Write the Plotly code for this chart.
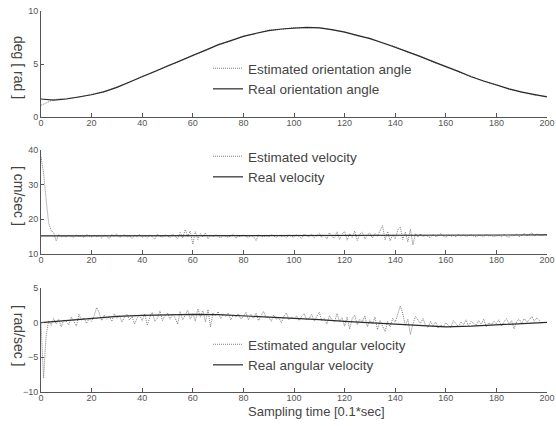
import plotly.graph_objects as go

# ---------------- data ----------------
t5 = list(range(0, 201, 5))
t10 = list(range(0, 201, 10))
t1 = list(range(0, 201))

orient_real = [1.7, 1.6, 1.7, 1.9, 2.1, 2.4, 2.8, 3.3, 3.8, 4.3, 4.8, 5.3, 5.8, 6.3, 6.8, 7.2,
               7.6, 7.9, 8.15, 8.3, 8.4, 8.45, 8.4, 8.25, 8.0, 7.7, 7.4, 7.0, 6.6, 6.15, 5.7,
               5.2, 4.75, 4.3, 3.8, 3.4, 3.0, 2.65, 2.35, 2.1, 1.9]
orient_est = [1.1, 1.65, 1.75, 1.85, 2.15, 2.35, 2.85, 3.25, 3.85, 4.25, 4.85, 5.25, 5.85, 6.25,
              6.85, 7.15, 7.65, 7.85, 8.2, 8.25, 8.45, 8.4, 8.45, 8.2, 8.05, 7.65, 7.45, 6.95,
              6.65, 6.1, 5.75, 5.15, 4.8, 4.25, 3.85, 3.35, 3.05, 2.6, 2.4, 2.05, 1.95]

vel_real_t = [0, 50, 100, 150, 200]
vel_real = [15.2, 15.3, 15.3, 15.4, 15.5]
vel_est = [
    38.0, 33.5, 26.0, 19.0, 16.8, 16.2, 13.8, 15.6, 15.0, 15.3,
    14.9, 15.4, 15.1, 14.8, 15.5, 15.0, 15.3, 14.7, 15.6, 15.2,
    14.9, 15.4, 15.0, 15.3, 14.6, 15.5, 15.1, 14.4, 15.7, 15.2,
    15.8, 14.8, 15.3, 15.6, 14.9, 15.2, 14.5, 15.4, 15.1, 15.6,
    14.8, 15.3, 14.6, 15.5, 15.0, 14.3, 15.7, 15.1, 14.9, 15.6,
    15.2, 14.7, 15.8, 15.0, 14.4, 16.2, 14.6, 17.0, 15.1, 16.6,
    12.8, 16.4, 14.2, 15.9, 14.9, 16.1, 14.4, 15.5, 14.9, 15.6,
    15.0, 14.6, 15.4, 15.1, 14.8, 15.3, 15.7, 14.5, 15.2, 15.0,
    15.6, 15.1, 14.7, 15.4, 15.0, 13.9, 15.5, 15.2, 15.0, 15.3,
    14.9, 15.6, 15.1, 14.8, 15.4, 15.0, 15.3, 14.7, 15.5, 15.2,
    14.8, 15.6, 15.0, 14.5, 15.7, 15.2, 14.9, 15.8, 14.6, 15.3,
    16.0, 14.7, 15.5, 14.3, 16.2, 15.0, 14.6, 16.4, 14.2, 15.8,
    16.5, 14.0, 15.9, 14.8, 16.6, 13.9, 15.7, 16.3, 14.3, 15.5,
    16.1, 14.6, 15.9, 15.2, 16.8, 18.2, 14.1, 16.5, 13.8, 15.6,
    14.4, 16.9, 17.8, 14.2, 16.3, 13.5, 17.2, 12.6, 15.9, 14.9,
    15.8, 15.0, 15.4, 15.1, 14.7, 15.6, 15.0, 15.3, 15.9, 15.2,
    14.8, 15.5, 15.1, 15.3, 15.0, 15.6, 15.2, 15.4, 15.1, 15.3,
    15.5, 15.2, 15.0, 15.4, 15.3, 15.1, 15.5, 15.2, 15.3, 15.0,
    15.2, 15.4, 15.0, 15.6, 15.1, 14.8, 15.5, 15.3, 15.7, 15.0,
    15.4, 15.9, 15.2, 15.6, 16.1, 15.3, 15.8, 15.5, 15.4, 15.6,
    15.5]

angvel_real = [0.0, 0.3, 0.6, 0.9, 1.05, 1.15, 1.2, 1.15, 1.0, 0.85, 0.65, 0.45, 0.2, 0.0,
               -0.2, -0.45, -0.6, -0.5, -0.35, -0.15, 0.05]
angvel_est = [
    0.0, -8.0, -2.0, 0.3, -0.4, 0.6, -0.2, 0.5, -0.6, 0.4,
    0.2, -0.3, 0.8, 0.1, -0.5, 1.2, 0.3, 0.7, -0.1, 0.6,
    0.2, 1.0, 2.2, 1.4, 0.3, 1.1, 0.5, 0.9, 0.2, 1.3,
    0.6, 1.0, 0.1, 0.8, 1.2, 0.4, 0.9, -0.2, 0.7, 1.1,
    0.3, 1.3, -0.4, 0.8, 1.5, 0.2, 0.6, 1.7, 0.3, 1.0,
    1.4, 0.5, 1.2, 0.7, -0.2, 1.6, 0.4, 1.1, 1.8, 0.5,
    1.3, 0.2, 2.0, 0.8, 1.7, 0.1, 1.9, -0.6, 1.4, 1.0,
    1.6, 0.6, 1.2, 0.9, 1.4, 0.4, 1.1, 0.8, 1.3, 0.5,
    0.9, 1.5, 0.4, 1.2, 0.6, 1.4, 0.3, 1.0, 1.6, 0.7,
    0.8, 0.2, 1.1, 0.5, 0.7, 0.0, 0.9, 1.4, 0.4, 0.8,
    0.5, 1.0, 0.3, 0.9, 1.3, 0.4, 0.6, 1.2, 0.2, 0.9,
    1.5, 0.3, 0.6, -0.2, 1.0, 0.4, 0.1, 1.3, 0.2, 0.7,
    -0.5, 0.8, -0.9, 0.6, 1.1, -0.3, 0.5, 0.1, 1.0, -0.6,
    0.4, -0.2, 0.8, -1.0, 0.3, -0.5, -1.3, 0.2, -0.6, 0.6,
    0.1, 1.2, 2.4, 1.3, -0.4, 0.5, -1.7, -0.2, 0.9, 0.4,
    -0.1, 0.6, -0.4, -0.7, 0.2, -0.5, 0.1, -0.8, -0.3, -0.6,
    0.0, -0.4, -0.7, 0.3, -0.2, -0.6, 0.1, -0.3, 0.4, -0.5,
    0.2, -0.1, -0.4, 0.3, -0.2, 0.5, -0.6, 0.0, -0.3, 0.2,
    -0.1, 0.4, -0.5, 0.1, 0.6, -0.2, 0.3, -0.9, 0.2, 0.5,
    -0.1, 0.6, 0.1, 0.4, 0.9, 0.2, 0.7, 0.3, 0.1, 0.2,
    0.1]

x_ticks = list(range(0, 201, 20))

# ---------------- figure ----------------
EST = dict(color="#808080", width=1, dash="1px,1px")
REAL = dict(color="#2a2a2a", width=1.2)
FONT = "Liberation Sans, Arial, sans-serif"

fig = go.Figure()
fig.add_trace(go.Scatter(x=t5, y=orient_est, mode="lines", line=EST,
                         name="Estimated orientation angle", xaxis="x", yaxis="y", legend="legend"))
fig.add_trace(go.Scatter(x=t5, y=orient_real, mode="lines", line=REAL,
                         name="Real orientation angle", xaxis="x", yaxis="y", legend="legend"))
fig.add_trace(go.Scatter(x=t1, y=vel_est, mode="lines", line=EST,
                         name="Estimated velocity", xaxis="x2", yaxis="y2", legend="legend2"))
fig.add_trace(go.Scatter(x=vel_real_t, y=vel_real, mode="lines", line=REAL,
                         name="Real velocity", xaxis="x2", yaxis="y2", legend="legend2"))
fig.add_trace(go.Scatter(x=t1[:198], y=angvel_est[:198], mode="lines", line=EST,
                         name="Estimated angular velocity", xaxis="x3", yaxis="y3", legend="legend3"))
fig.add_trace(go.Scatter(x=t10, y=angvel_real, mode="lines", line=REAL,
                         name="Real angular velocity", xaxis="x3", yaxis="y3", legend="legend3"))

xd = [41 / 556, 547 / 556]
def xax(anchor):
    return dict(domain=xd, range=[0, 200], anchor=anchor, showgrid=False, zeroline=False,
                showline=True, linecolor="#555", linewidth=1, ticks="inside", ticklen=4,
                tickcolor="#555", tickvals=x_ticks, ticklabelstandoff=-3, automargin=False,
                tickfont=dict(size=9, color="#555", family=FONT))
def yax(anchor, dom, rng, tv):
    return dict(domain=dom, range=rng, anchor=anchor, showgrid=False, zeroline=False,
                showline=True, linecolor="#555", linewidth=1, ticks="inside", ticklen=3,
                tickcolor="#555", tickvals=tv, automargin=False,
                tickfont=dict(size=9, color="#555", family=FONT))

def dom(top_px, bot_px):
    return [1 - bot_px / 426, 1 - top_px / 426]

legend_common = dict(bgcolor="rgba(0,0,0,0)", font=dict(size=13.5, color="#444", family=FONT),
                     xanchor="left", yanchor="top", itemwidth=30, tracegroupgap=0)

fig.update_layout(
    width=556, height=426,
    margin=dict(l=0, r=0, t=0, b=0, pad=0, autoexpand=False),
    paper_bgcolor="white", plot_bgcolor="white",
    xaxis=xax("y"), yaxis=yax("x", dom(11, 117), [0, 10], [0, 5, 10]),
    xaxis2=xax("y2"), yaxis2=yax("x2", dom(150, 254), [10, 40], [10, 20, 30, 40]),
    xaxis3=xax("y3"), yaxis3=yax("x3", dom(288, 392), [-10, 5], [-10, -5, 0, 5]),
    legend=dict(x=208 / 556, y=1 - 53 / 426, **legend_common),
    legend2=dict(x=208 / 556, y=1 - 141 / 426, **legend_common),
    legend3=dict(x=208 / 556, y=1 - 329 / 426, **legend_common),
    showlegend=True,
)

ylabels = [("deg [ rad ]", 67), ("[ cm/sec ]", 196), ("[ rad/sec ]", 335)]
for txt, ypx in ylabels:
    fig.add_annotation(text=txt, xref="paper", yref="paper", x=19 / 556, y=1 - ypx / 426,
                       xanchor="center", yanchor="middle",
                       showarrow=False, textangle=90, font=dict(size=14, color="#444", family=FONT))
fig.add_annotation(text="Sampling time [0.1*sec]", xref="paper", yref="paper",
                   x=316 / 556, y=1 - 411 / 426, xanchor="center", yanchor="middle", showarrow=False,
                   font=dict(size=13, color="#444", family=FONT))

fig.write_html("out.html", config={"displayModeBar": False},
               post_script="document.body.style.margin='0';document.body.style.padding='0';"
                           "document.documentElement.style.overflow='hidden';")
